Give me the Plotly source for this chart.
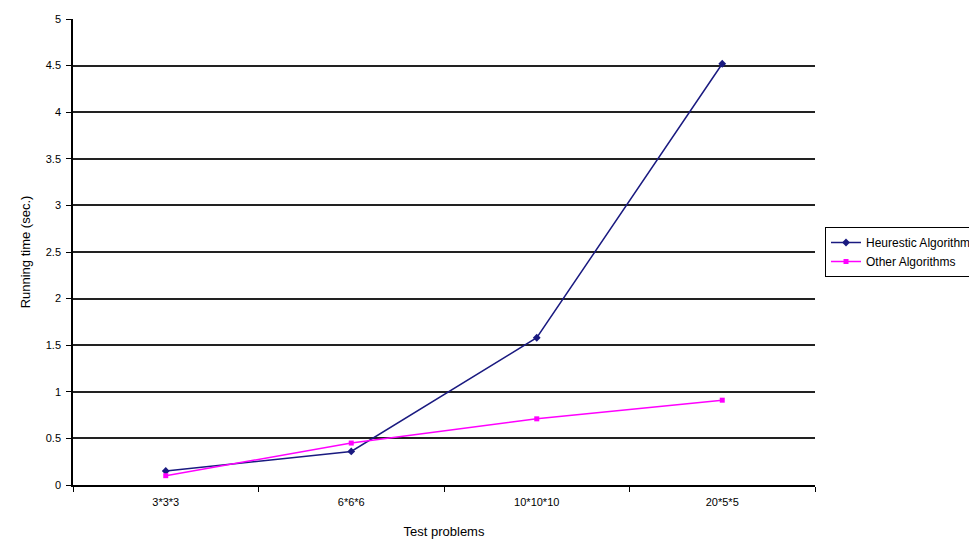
import plotly.graph_objects as go

categories = ["3*3*3", "6*6*6", "10*10*10", "20*5*5"]
heuristic = [0.15, 0.36, 1.58, 4.52]
other = [0.10, 0.45, 0.71, 0.91]

font = "Liberation Sans, Arial, sans-serif"

fig = go.Figure()
fig.add_trace(go.Scatter(x=categories, y=heuristic, name="Heurestic Algorithm",
                         mode="lines+markers",
                         line=dict(color="#1a1a80", width=1.5),
                         marker=dict(symbol="diamond", size=6, color="#1a1a80")))
fig.add_trace(go.Scatter(x=categories, y=other, name="Other Algorithms",
                         mode="lines+markers",
                         line=dict(color="#ff00ff", width=1.5),
                         marker=dict(symbol="square", size=5, color="#ff00ff")))

fig.update_layout(
    width=969, height=537,
    margin=dict(l=65, r=162, t=11, b=60, autoexpand=False),
    paper_bgcolor="white", plot_bgcolor="white",
    font=dict(family=font, size=11, color="black"),
    showlegend=True,
    legend=dict(x=1.0135, xanchor="left", y=0.5, yanchor="middle",
                bordercolor="black", borderwidth=1, bgcolor="white",
                font=dict(size=12), tracegroupgap=0, itemwidth=30),
    xaxis=dict(type="category", tickson="boundaries", ticks="outside", ticklen=5,
               tickcolor="black", showline=True, linecolor="black", linewidth=1.5,
               showgrid=False, range=[-0.5, 3.5], ticklabelstandoff=6,
               title=dict(text="Test problems", standoff=20)),
    yaxis=dict(range=[0, 5], dtick=0.5, ticks="outside", ticklen=5,
               tickcolor="black", showline=True, linecolor="black", linewidth=1.5,
               showgrid=True, gridcolor="#222222", gridwidth=1.5, zeroline=False,
               ticklabelstandoff=3,
               title=dict(text="Running time (sec.)", standoff=12)),
)

fig.write_html("out.html")
